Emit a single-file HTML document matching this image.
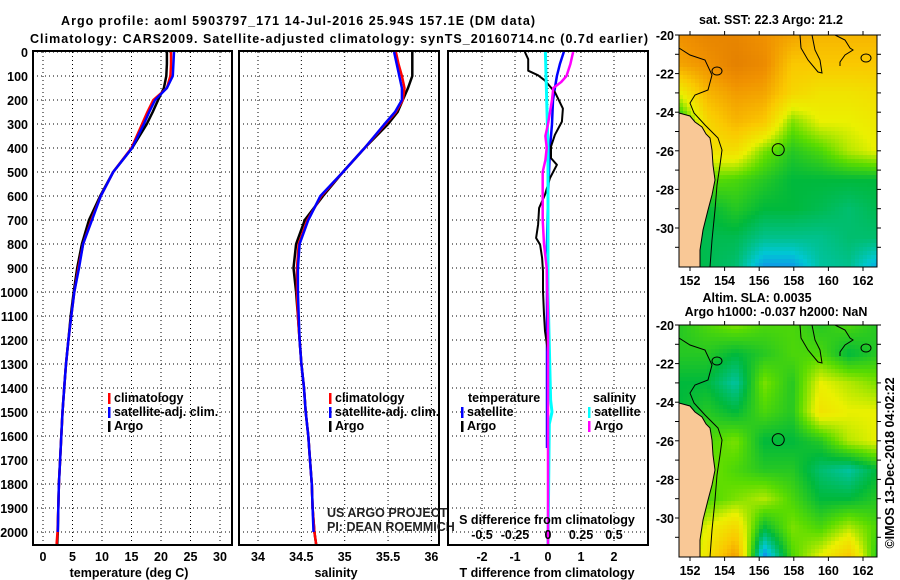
<!DOCTYPE html>
<html><head><meta charset="utf-8"><style>
html,body{margin:0;padding:0;background:#fff;}
svg{display:block;font-family:"Liberation Sans",sans-serif;}
.b{font-weight:bold;font-size:12.5px;}
</style></head><body>
<svg id="c" width="900" height="580" xmlns="http://www.w3.org/2000/svg"></svg>
<script>
// ---- data ----
const depthTS=[0,50,100,150,200,250,300,400,500,600,700,800,900,1000,1100,1200,1300,1400,1500,1600,1700,1800,1900,2000,2050];
const tempArgo=[21.0,21.0,20.9,20.5,19.5,18.6,17.6,15.1,11.9,9.7,7.8,6.6,5.8,5.2,4.7,4.3,3.9,3.6,3.3,3.1,2.9,2.7,2.6,2.5,2.4];
const tempClim=[21.7,21.7,21.6,21.0,18.7,17.7,16.8,15.0,11.9,9.8,8.2,6.8,6.0,5.3,4.8,4.3,3.9,3.6,3.3,3.1,2.9,2.7,2.6,2.45,2.3];
const tempSat=[22.2,22.1,22.0,21.0,19.0,18.0,17.1,15.1,11.9,9.8,8.3,6.8,6.1,5.3,4.8,4.3,3.9,3.6,3.3,3.1,2.9,2.7,2.6,2.5,2.5];
const salArgo=[35.78,35.78,35.78,35.73,35.67,35.61,35.50,35.23,34.98,34.75,34.54,34.44,34.41,34.44,34.46,34.48,34.50,34.53,34.55,34.58,34.60,34.62,34.63,34.65,34.67];
const salClim=[35.59,35.62,35.66,35.69,35.67,35.59,35.47,35.23,34.98,34.73,34.57,34.47,34.45,34.45,34.46,34.48,34.50,34.53,34.55,34.58,34.60,34.62,34.63,34.65,34.67];
const salSat=[35.57,35.60,35.63,35.66,35.66,35.58,35.46,35.23,34.98,34.72,34.58,34.48,34.46,34.46,34.47,34.48,34.50,34.53,34.55,34.58,34.60,34.62,34.63,34.64,34.65];
const dTArgoDepth=[0,30,78,97,118,167,236,290,345,394,442,470,525,594,650,719,775,803,858,914,997,1094,1163,1250];
const dTArgo=[-0.7,-0.6,-0.6,-0.3,-0.1,0.21,0.45,0.42,0.21,0.09,0.09,0.27,0.06,-0.09,-0.27,-0.3,-0.36,-0.24,-0.18,-0.15,-0.15,-0.12,-0.09,0];
const dTSatDepth=[0,50,100,150,200,300,400,600,800,1000,1200,1400,1650];
const dTSat=[0.48,0.36,0.27,0.21,0.15,0.12,0.06,0.0,-0.03,-0.03,-0.03,-0.03,-0.03];
const dSArgoDepth=[0,50,100,125,150,200,300,350,400,450,500,600,700,800,900,1100,1300,2050];
const dSArgo=[0.19,0.17,0.14,0.1,0.04,0.03,0.0,-0.02,-0.01,-0.02,-0.04,-0.04,-0.04,-0.03,-0.01,0,0,0];
const dSSatDepth=[0,200,400,1000,1450,1500,1550,2050];
const dSSat=[-0.02,-0.01,0,0,0.02,0.03,0.01,0.0];
const depthTicks=[0,100,200,300,400,500,600,700,800,900,1000,1100,1200,1300,1400,1500,1600,1700,1800,1900,2000];
const tempTicks=[0,5,10,15,20,25,30];
const salTicks=[34,34.5,35,35.5,36];
const tdTicks=[-2,-1,0,1,2];
const sdTicks=["-0.5","-0.25","0","0.25","0.5"];
const sstGrid=[
[0.85,0.9,0.9,0.85,0.8,0.75,0.75,0.75],
[0.8,0.85,0.92,0.88,0.7,0.7,0.7,0.7],
[0.55,0.75,0.82,0.8,0.65,0.6,0.6,0.62],
[0.3,0.65,0.75,0.7,0.45,0.55,0.55,0.58],
[0.3,0.6,0.62,0.45,0.35,0.4,0.5,0.55],
[0.35,0.42,0.4,0.35,0.3,0.3,0.3,0.3],
[0.3,0.3,0.35,0.3,0.3,0.28,0.25,0.28],
[0.3,0.28,0.28,0.22,0.22,0.22,0.25,0.25],
[0.3,0.28,0.25,0.08,0.08,0.2,0.22,0.1]];
const slaGrid=[
[0.35,0.4,0.45,0.4,0.4,0.35,0.4,0.35],
[0.35,0.35,0.3,0.35,0.4,0.4,0.3,0.35],
[0.3,0.3,0.2,0.45,0.35,0.55,0.5,0.45],
[0.3,0.35,0.3,0.4,0.35,0.6,0.55,0.55],
[0.4,0.4,0.45,0.3,0.3,0.35,0.5,0.55],
[0.35,0.45,0.4,0.35,0.35,0.25,0.2,0.3],
[0.35,0.4,0.45,0.5,0.4,0.3,0.3,0.35],
[0.4,0.55,0.65,0.3,0.45,0.4,0.5,0.4],
[0.4,0.6,0.82,0.05,0.4,0.55,0.7,0.35]];
const lonTicks=[152,154,156,158,160,162];
const latTicks=[-20,-22,-24,-26,-28,-30];

// ---- helpers ----
const NS="http://www.w3.org/2000/svg";
const svg=document.getElementById('c');
function el(tag,attrs,parent){const e=document.createElementNS(NS,tag);for(const k in attrs)e.setAttribute(k,attrs[k]);(parent||svg).appendChild(e);return e;}
function txt(x,y,s,anchor,cls,parent){const t=el('text',{x:x,y:y,'text-anchor':anchor||'start','class':cls||'b'},parent);t.textContent=s;return t;}
const yD=d=>52+0.24*d;
const xT=t=>43+5.9*t;
const xS=s=>258+86.7*(s-34);
const xdT=t=>548+33*t;
const xdS=s=>548+132*s;

function panel(name,x0,x1,gx){
  const g=el('g',{});
  
  
  depthTicks.forEach(d=>{el('line',{x1:x0,x2:x1,y1:yD(d),y2:yD(d),stroke:'#000','stroke-width':1,'stroke-dasharray':'1,3'},g);});
  gx.forEach(x=>{el('line',{x1:x,x2:x,y1:52,y2:545,stroke:'#000','stroke-width':1,'stroke-dasharray':'1,3'},g);});
  el('rect',{x:x0,y:51,width:x1-x0,height:494,fill:'none',stroke:'#000','stroke-width':2},g);
  return g;
}
function line(g,name,depths,vals,fx,color,w){
  const p=depths.map((d,i)=>fx(vals[i]).toFixed(1)+','+yD(d).toFixed(1)).join(' ');
  const l=el('polyline',{points:p,fill:'none',stroke:color,'stroke-width':w||2.5,'stroke-linejoin':'round'},g);
  
  
}
function legend(g,x,y,items){
  items.forEach((it,i)=>{
    el('rect',{x:x,y:y+i*14-9,width:2.5,height:11,fill:it[1]},g);
    const t=txt(x+6,y+i*14,it[0],'start','b',g);
    
    
  });
}

// titles
const t1=txt(61,25,'Argo profile: aoml 5903797_171 14-Jul-2016 25.94S 157.1E (DM data)','start','b');


t1.setAttribute('textLength','474');
const t2=txt(30,43,'Climatology: CARS2009. Satellite-adjusted climatology: synTS_20160714.nc (0.7d earlier)','start','b');


t2.setAttribute('textLength','618');

// depth axis labels
depthTicks.forEach(d=>{const t=txt(28,yD(d)+5,String(d),'end','b');});

// panel 1 temperature
const p1=panel('temperature-panel',33,232,tempTicks.map(xT));
line(p1,'temp-argo-line',depthTS,tempArgo,xT,'#000');
line(p1,'temp-climatology-line',depthTS,tempClim,xT,'#ff0000');
line(p1,'temp-satellite-line',depthTS.slice(0,24),tempSat.slice(0,24),xT,'#0000ff');
tempTicks.forEach(v=>{const t=txt(xT(v),561,String(v),'middle','b');});
const xl1=txt(129,577,'temperature (deg C)','middle','b');
legend(p1,108,402,[['climatology','#ff0000'],['satellite-adj. clim.','#0000ff'],['Argo','#000']]);

// panel 2 salinity
const p2=panel('salinity-panel',239,439,salTicks.map(xS));
line(p2,'sal-argo-line',depthTS,salArgo,xS,'#000');
line(p2,'sal-climatology-line',depthTS,salClim,xS,'#ff0000');
line(p2,'sal-satellite-line',depthTS.slice(0,24),salSat.slice(0,24),xS,'#0000ff');
salTicks.forEach(v=>{const t=txt(xS(v),561,String(v),'middle','b');});
const xl2=txt(336,577,'salinity','middle','b');
legend(p2,329,402,[['climatology','#ff0000'],['satellite-adj. clim.','#0000ff'],['Argo','#000']]);
const cr1=txt(327,517,'US ARGO PROJECT','start','',p2);cr1.setAttribute('style','font-size:12.5px;fill:#222');
const cr2=txt(327,531,'PI: DEAN ROEMMICH','start','',p2);cr2.setAttribute('style','font-size:12.5px;fill:#222');

// panel 3 differences
const p3=panel('difference-panel',448,648,tdTicks.map(xdT));
line(p3,'dT-satellite-line',dTSatDepth,dTSat,xdT,'#0000ff');
line(p3,'dT-argo-line',dTArgoDepth,dTArgo,xdT,'#000',2);
line(p3,'dS-satellite-line',dSSatDepth,dSSat,xdS,'#00ffff',3);
line(p3,'dS-argo-line',dSArgoDepth,dSArgo,xdS,'#ff00ff',2.5);
tdTicks.forEach(v=>{const t=txt(xdT(v),561,String(v),'middle','b');});
sdTicks.forEach((v,i)=>{const t=txt(xdS(parseFloat(v)),539,v,'middle','b');});
const sdt=txt(547,524,'S difference from climatology','middle','b');
const tdt=txt(547,577,'T difference from climatology','middle','b');
const lt=txt(468,402,'temperature','start','b',p3);
legend(p3,461,416,[['satellite','#0000ff'],['Argo','#000']]);
const ls=txt(593,402,'salinity','start','b',p3);
legend(p3,588,416,[['satellite','#00ffff'],['Argo','#ff00ff']]);

// ---- maps ----
const cmapStops=[[0,[30,100,255]],[0.15,[0,200,210]],[0.3,[0,185,60]],[0.42,[90,220,0]],[0.55,[235,240,0]],[0.7,[250,200,0]],[0.85,[240,145,0]],[1,[215,110,0]]];
function cmap(v){
  v=Math.max(0,Math.min(1,v));
  for(let i=1;i<cmapStops.length;i++){if(v<=cmapStops[i][0]){const a=cmapStops[i-1],b=cmapStops[i];const f=(v-a[0])/(b[0]-a[0]);return 'rgb('+a[1].map((c,k)=>Math.round(c+(b[1][k]-c)*f)).join(',')+')';}}
  return 'rgb(215,110,0)';
}
const lonX=l=>690+17.3*(l-152);
function map(name,oy,grid,title){
  const g=el('g',{});
  
  
  const X0=679,X1=877,Y0=35+oy,Y1=267+oy;
  const cs=4, nr=grid.length, nc=grid[0].length;
  for(let y=Y0;y<Y1;y+=cs){for(let x=X0;x<X1;x+=cs){
    const fy=(y+cs/2-Y0)/(Y1-Y0)*(nr-1), fx=(x+cs/2-X0)/(X1-X0)*(nc-1);
    const r=Math.min(nr-2,Math.floor(fy)), c=Math.min(nc-2,Math.floor(fx)); const dy=fy-r, dx=fx-c;
    const v=grid[r][c]*(1-dx)*(1-dy)+grid[r][c+1]*dx*(1-dy)+grid[r+1][c]*(1-dx)*dy+grid[r+1][c+1]*dx*dy;
    el('rect',{x:x,y:y,width:Math.min(cs,X1-x),height:Math.min(cs,Y1-y),fill:cmap(v)},g);
  }}
  const o=(pts)=>pts.map(p=>p[0]+','+(p[1]+oy)).join(' ');
  const land=el('polygon',{points:o([[679,113],[690,116],[695,122],[702,127],[706,134],[710,138],[712,150],[713,165],[715,180],[712,195],[708,210],[703,230],[700,250],[700,267],[679,267]]),fill:'#f9c896',stroke:'#000','stroke-width':1},g);
  
  
  el('polyline',{points:o([[679,48],[690,55],[705,60],[712,75],[708,90],[695,95],[690,103],[694,113],[705,125],[718,138],[722,150],[720,165],[717,185],[715,210],[712,240],[710,267]]),fill:'none',stroke:'#000','stroke-width':1},g);
  el('polyline',{points:o([[800,35],[801,48],[808,60],[818,72],[822,73],[820,60],[815,50],[812,35]]),fill:'none',stroke:'#000','stroke-width':1},g);
  el('polyline',{points:o([[835,35],[845,40],[850,48],[853,50],[845,55],[840,62],[840,66]]),fill:'none',stroke:'#000','stroke-width':1},g);
  el('ellipse',{cx:866,cy:58+oy,rx:5,ry:4,fill:'none',stroke:'#000','stroke-width':1},g);
  el('ellipse',{cx:717,cy:71+oy,rx:5,ry:4,fill:'none',stroke:'#000','stroke-width':1},g);
  const circ=el('circle',{cx:lonX(157.1),cy:35+oy+19.3*5.94,r:6,fill:'none',stroke:'#000','stroke-width':1},g);
  
  
  el('rect',{x:X0,y:Y0,width:X1-X0,height:Y1-Y0,fill:'none',stroke:'#000','stroke-width':1},g);
  lonTicks.forEach(l=>{const x=lonX(l);el('line',{x1:x,x2:x,y1:Y0,y2:Y0-4,stroke:'#000'},g);el('line',{x1:x,x2:x,y1:Y1,y2:Y1+4,stroke:'#000'},g);
    const t=txt(x,Y1+18,String(l),'middle','b',g);});
  for(let la=-20;la>=-31;la--){const y=Y0+19.3*(-20-la);el('line',{x1:X0,x2:X0-4,y1:y,y2:y,stroke:'#000'},g);el('line',{x1:X1,x2:X1+4,y1:y,y2:y,stroke:'#000'},g);}
  latTicks.forEach(la=>{const y=Y0+19.3*(-20-la);const t=txt(674,y+5,String(la),'end','b',g);});
  title.forEach((s,i)=>{const t=txt(s[1],s[2],s[0],'middle','b',g);});
}
map('sst-map',0,sstGrid,[['sat. SST: 22.3 Argo: 21.2',771,24]]);
map('sla-map',290,slaGrid,[['Altim. SLA: 0.0035',757,302],['Argo h1000: -0.037 h2000: NaN',776,316]]);
const ts=txt(0,0,'©IMOS 13-Dec-2018 04:02:22','middle','');
ts.setAttribute('transform','translate(894,463) rotate(-90)');
ts.setAttribute('style','font-size:12.5px');


</script>
</body></html>
